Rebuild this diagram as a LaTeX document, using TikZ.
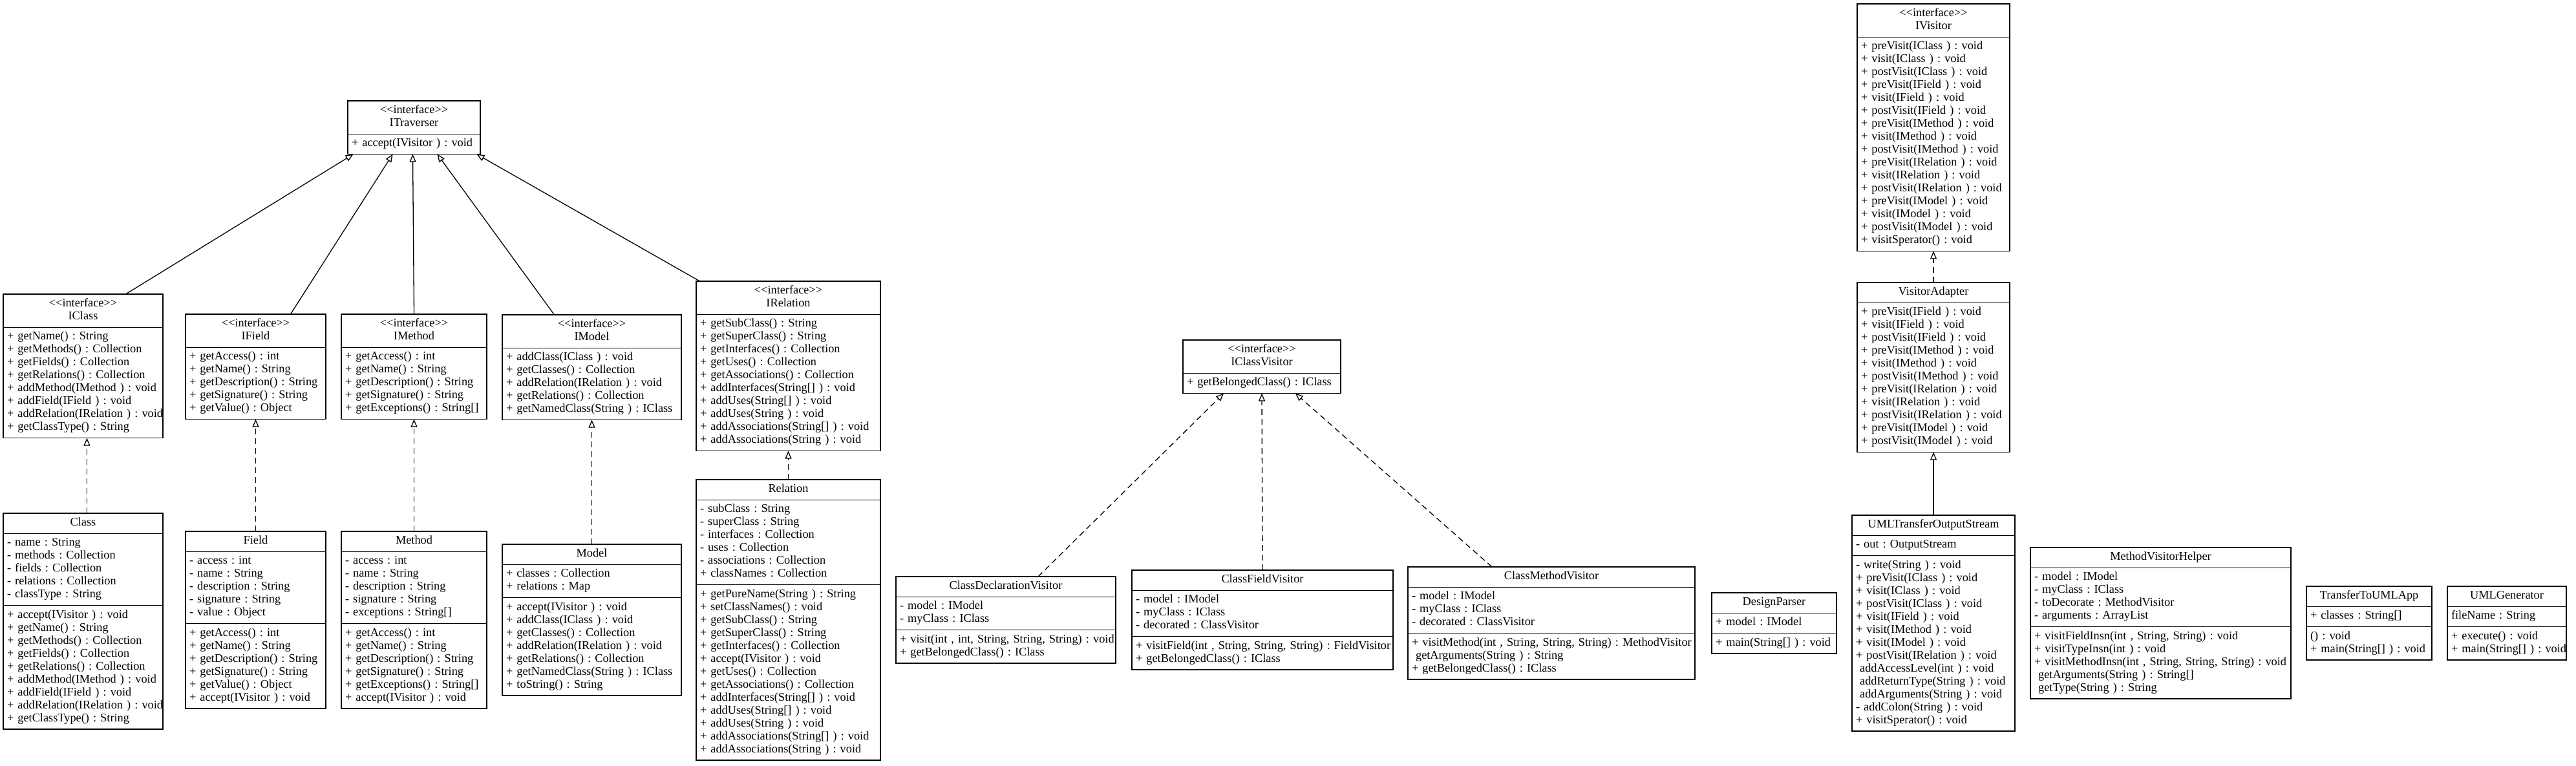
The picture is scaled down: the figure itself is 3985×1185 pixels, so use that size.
\documentclass[tikz,border=0pt]{standalone}
\usepackage{fontspec}
\setmainfont{Liberation Serif}
\usetikzlibrary{arrows.meta,shapes.multipart}

\frenchspacing
\newcommand{\umlfont}{\fontsize{18.3}{20}\selectfont\frenchspacing}
\newcommand{\stereo}{\textless\kern0pt\textless interface\textgreater\kern0pt\textgreater}
\newcommand{\head}[1]{\makebox[\linewidth][c]{\begin{tabular}{@{}c@{}}#1\end{tabular}}}
\newcommand{\rows}[1]{\begin{tabular}{@{}l@{}}#1\end{tabular}}

\begin{document}
\begin{tikzpicture}[x=1pt,y=-1pt,
  umlclass/.style={draw,line width=1.3pt,rectangle split,anchor=north west,inner xsep=6pt,inner ysep=5pt,outer sep=0pt,align=left,font=\umlfont},
  realize/.style={line width=1.3pt,dash pattern=on 9pt off 6pt,-{Triangle[open,length=12pt,width=10pt]}},
  inherit/.style={line width=1.3pt,-{Triangle[open,length=12pt,width=10pt]}}]
\useasboundingbox[fill=white] (0,0) rectangle (3985,1185);

\node[umlclass,rectangle split parts=2,text width=193pt] (itraverser) at (538,156) {\head{\stereo\\ITraverser}
\nodepart{two}\rows{+ accept(IVisitor ) : void}};

\node[umlclass,rectangle split parts=2,text width=235pt] (iclass) at (5,455) {\head{\stereo\\IClass}
\nodepart{two}\rows{+ getName() : String\\
+ getMethods() : Collection\\
+ getFields() : Collection\\
+ getRelations() : Collection\\
+ addMethod(IMethod ) : void\\
+ addField(IField ) : void\\
+ addRelation(IRelation ) : void\\
+ getClassType() : String}};

\node[umlclass,rectangle split parts=3,text width=235pt] (cls) at (5,794) {\head{Class}
\nodepart{two}\rows{- name : String\\
- methods : Collection\\
- fields : Collection\\
- relations : Collection\\
- classType : String}
\nodepart{three}\rows{+ accept(IVisitor ) : void\\
+ getName() : String\\
+ getMethods() : Collection\\
+ getFields() : Collection\\
+ getRelations() : Collection\\
+ addMethod(IMethod ) : void\\
+ addField(IField ) : void\\
+ addRelation(IRelation ) : void\\
+ getClassType() : String}};

\node[umlclass,rectangle split parts=2,text width=205pt] (ifield) at (287,486) {\head{\stereo\\IField}
\nodepart{two}\rows{+ getAccess() : int\\
+ getName() : String\\
+ getDescription() : String\\
+ getSignature() : String\\
+ getValue() : Object}};

\node[umlclass,rectangle split parts=3,text width=205pt] (field) at (287,822) {\head{Field}
\nodepart{two}\rows{- access : int\\
- name : String\\
- description : String\\
- signature : String\\
- value : Object}
\nodepart{three}\rows{+ getAccess() : int\\
+ getName() : String\\
+ getDescription() : String\\
+ getSignature() : String\\
+ getValue() : Object\\
+ accept(IVisitor ) : void}};

\node[umlclass,rectangle split parts=2,text width=213pt] (imethod) at (528,486) {\head{\stereo\\IMethod}
\nodepart{two}\rows{+ getAccess() : int\\
+ getName() : String\\
+ getDescription() : String\\
+ getSignature() : String\\
+ getExceptions() : String[]}};

\node[umlclass,rectangle split parts=3,text width=213pt] (method) at (528,822) {\head{Method}
\nodepart{two}\rows{- access : int\\
- name : String\\
- description : String\\
- signature : String\\
- exceptions : String[]}
\nodepart{three}\rows{+ getAccess() : int\\
+ getName() : String\\
+ getDescription() : String\\
+ getSignature() : String\\
+ getExceptions() : String[]\\
+ accept(IVisitor ) : void}};

\node[umlclass,rectangle split parts=2,text width=265pt] (imodel) at (777,487) {\head{\stereo\\IModel}
\nodepart{two}\rows{+ addClass(IClass ) : void\\
+ getClasses() : Collection\\
+ addRelation(IRelation ) : void\\
+ getRelations() : Collection\\
+ getNamedClass(String ) : IClass}};

\node[umlclass,rectangle split parts=3,text width=265pt] (model) at (777,842) {\head{Model}
\nodepart{two}\rows{+ classes : Collection\\
+ relations : Map}
\nodepart{three}\rows{+ accept(IVisitor ) : void\\
+ addClass(IClass ) : void\\
+ getClasses() : Collection\\
+ addRelation(IRelation ) : void\\
+ getRelations() : Collection\\
+ getNamedClass(String ) : IClass\\
+ toString() : String}};

\node[umlclass,rectangle split parts=2,text width=273pt] (irelation) at (1077,435) {\head{\stereo\\IRelation}
\nodepart{two}\rows{+ getSubClass() : String\\
+ getSuperClass() : String\\
+ getInterfaces() : Collection\\
+ getUses() : Collection\\
+ getAssociations() : Collection\\
+ addInterfaces(String[] ) : void\\
+ addUses(String[] ) : void\\
+ addUses(String ) : void\\
+ addAssociations(String[] ) : void\\
+ addAssociations(String ) : void}};

\node[umlclass,rectangle split parts=3,text width=273pt] (relation) at (1077,742) {\head{Relation}
\nodepart{two}\rows{- subClass : String\\
- superClass : String\\
- interfaces : Collection\\
- uses : Collection\\
- associations : Collection\\
+ classNames : Collection}
\nodepart{three}\rows{+ getPureName(String ) : String\\
+ setClassNames() : void\\
+ getSubClass() : String\\
+ getSuperClass() : String\\
+ getInterfaces() : Collection\\
+ accept(IVisitor ) : void\\
+ getUses() : Collection\\
+ getAssociations() : Collection\\
+ addInterfaces(String[] ) : void\\
+ addUses(String[] ) : void\\
+ addUses(String ) : void\\
+ addAssociations(String[] ) : void\\
+ addAssociations(String ) : void}};

\node[umlclass,rectangle split parts=2,text width=232pt] (iclassvisitor) at (1830,526) {\head{\stereo\\IClassVisitor}
\nodepart{two}\rows{+ getBelongedClass() : IClass}};

\node[umlclass,rectangle split parts=3,text width=328pt] (classdeclvisitor) at (1386,892) {\head{ClassDeclarationVisitor}
\nodepart{two}\rows{- model : IModel\\
- myClass : IClass}
\nodepart{three}\rows{+ visit(int , int, String, String, String) : void\\
+ getBelongedClass() : IClass}};

\node[umlclass,rectangle split parts=3,text width=392pt] (classfieldvisitor) at (1751,882) {\head{ClassFieldVisitor}
\nodepart{two}\rows{- model : IModel\\
- myClass : IClass\\
- decorated : ClassVisitor}
\nodepart{three}\rows{+ visitField(int , String, String, String) : FieldVisitor\\
+ getBelongedClass() : IClass}};

\node[umlclass,rectangle split parts=3,text width=432pt] (classmethodvisitor) at (2178,877) {\head{ClassMethodVisitor}
\nodepart{two}\rows{- model : IModel\\
- myClass : IClass\\
- decorated : ClassVisitor}
\nodepart{three}\rows{+ visitMethod(int , String, String, String) : MethodVisitor\\
\ getArguments(String ) : String\\
+ getBelongedClass() : IClass}};

\node[umlclass,rectangle split parts=3,text width=181pt] (designparser) at (2648,917) {\head{DesignParser}
\nodepart{two}\rows{+ model : IModel}
\nodepart{three}\rows{+ main(String[] ) : void}};

\node[umlclass,rectangle split parts=2,text width=224pt] (ivisitor) at (2873,6) {\head{\stereo\\IVisitor}
\nodepart{two}\rows{+ preVisit(IClass ) : void\\
+ visit(IClass ) : void\\
+ postVisit(IClass ) : void\\
+ preVisit(IField ) : void\\
+ visit(IField ) : void\\
+ postVisit(IField ) : void\\
+ preVisit(IMethod ) : void\\
+ visit(IMethod ) : void\\
+ postVisit(IMethod ) : void\\
+ preVisit(IRelation ) : void\\
+ visit(IRelation ) : void\\
+ postVisit(IRelation ) : void\\
+ preVisit(IModel ) : void\\
+ visit(IModel ) : void\\
+ postVisit(IModel ) : void\\
+ visitSperator() : void}};

\node[umlclass,rectangle split parts=2,text width=224pt] (visitoradapter) at (2873,437) {\head{VisitorAdapter}
\nodepart{two}\rows{+ preVisit(IField ) : void\\
+ visit(IField ) : void\\
+ postVisit(IField ) : void\\
+ preVisit(IMethod ) : void\\
+ visit(IMethod ) : void\\
+ postVisit(IMethod ) : void\\
+ preVisit(IRelation ) : void\\
+ visit(IRelation ) : void\\
+ postVisit(IRelation ) : void\\
+ preVisit(IModel ) : void\\
+ postVisit(IModel ) : void}};

\node[umlclass,rectangle split parts=3,text width=240pt] (umlout) at (2865,797) {\head{UMLTransferOutputStream}
\nodepart{two}\rows{- out : OutputStream}
\nodepart{three}\rows{- write(String ) : void\\
+ preVisit(IClass ) : void\\
+ visit(IClass ) : void\\
+ postVisit(IClass ) : void\\
+ visit(IField ) : void\\
+ visit(IMethod ) : void\\
+ visit(IModel ) : void\\
+ postVisit(IRelation ) : void\\
\ addAccessLevel(int ) : void\\
\ addReturnType(String ) : void\\
\ addArguments(String ) : void\\
- addColon(String ) : void\\
+ visitSperator() : void}};

\node[umlclass,rectangle split parts=3,text width=391pt] (methodhelper) at (3141,847) {\head{MethodVisitorHelper}
\nodepart{two}\rows{- model : IModel\\
- myClass : IClass\\
- toDecorate : MethodVisitor\\
- arguments : ArrayList}
\nodepart{three}\rows{+ visitFieldInsn(int , String, String) : void\\
+ visitTypeInsn(int ) : void\\
+ visitMethodInsn(int , String, String, String) : void\\
\ getArguments(String ) : String[]\\
\ getType(String ) : String}};

\node[umlclass,rectangle split parts=3,text width=182pt] (transferapp) at (3568,907) {\head{TransferToUMLApp}
\nodepart{two}\rows{+ classes : String[]}
\nodepart{three}\rows{() : void\\
+ main(String[] ) : void}};

\node[umlclass,rectangle split parts=3,text width=172pt] (umlgen) at (3786,907) {\head{UMLGenerator}
\nodepart{two}\rows{fileName : String}
\nodepart{three}\rows{+ execute() : void\\
+ main(String[] ) : void}};

\draw[inherit] ([xshift=66pt]iclass.north) -- ([xshift=-94pt]itraverser.south);
\draw[inherit] ([xshift=54pt]ifield.north) -- ([xshift=-33pt]itraverser.south);
\draw[inherit] (imethod.north) -- ([xshift=-2pt]itraverser.south);
\draw[inherit] ([xshift=-58pt]imodel.north) -- ([xshift=36pt]itraverser.south);
\draw[inherit] ([xshift=-137pt]irelation.north) -- ([xshift=97pt]itraverser.south);
\draw[realize] ([xshift=6pt]cls.north) -- ([xshift=6pt]iclass.south);
\draw[realize] (field.north) -- (ifield.south);
\draw[realize] (method.north) -- (imethod.south);
\draw[realize] (model.north) -- (imodel.south);
\draw[realize] (relation.north) -- (irelation.south);
\draw[realize] ([xshift=50pt]classdeclvisitor.north) -- ([xshift=-59pt]iclassvisitor.south);
\draw[realize] (classfieldvisitor.north) -- (iclassvisitor.south);
\draw[realize] ([xshift=-92pt]classmethodvisitor.north) -- ([xshift=52pt]iclassvisitor.south);
\draw[realize] (visitoradapter.north) -- (ivisitor.south);
\draw[inherit] (umlout.north) -- (visitoradapter.south);
\end{tikzpicture}
\end{document}
